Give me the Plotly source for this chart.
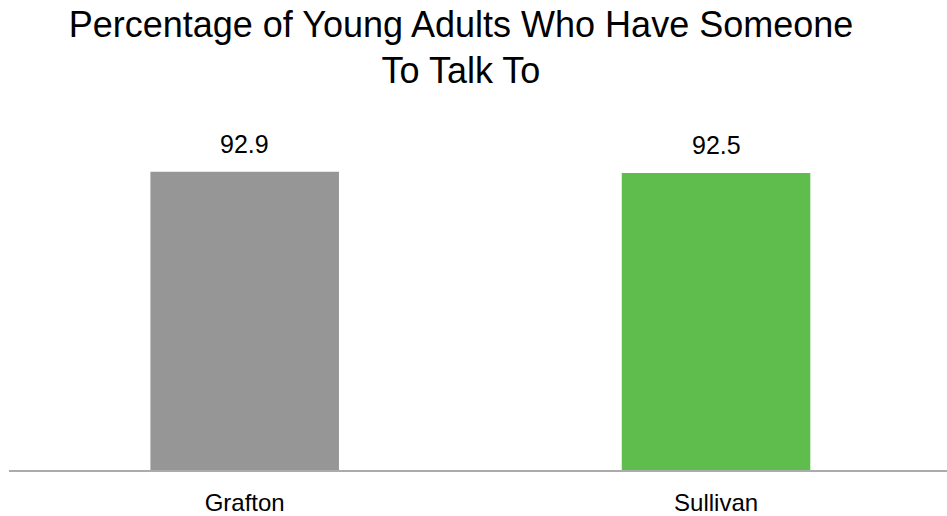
import plotly.graph_objects as go

categories = ["Grafton", "Sullivan"]
values = [92.9, 92.5]
value_labels = ["92.9", "92.5"]
bar_colors = ["#969696", "#5EBD4C"]
title_text = "Percentage of Young Adults Who Have Someone<br>To Talk To"

fig = go.Figure()
fig.add_trace(go.Bar(
    x=categories, y=values, width=0.4,
    marker=dict(color=bar_colors, line=dict(width=0)),
    hoverinfo="skip",
))
for c, v, t in zip(categories, values, value_labels):
    fig.add_annotation(x=c, y=v, text=t, showarrow=False, yanchor="bottom",
                       yshift=12, font=dict(family="Liberation Sans, Arial", size=25, color="#000000"))

fig.update_layout(
    width=947, height=516,
    margin=dict(l=9, r=0, t=149, b=46, autoexpand=False),
    paper_bgcolor="white", plot_bgcolor="white",
    showlegend=False,
    title=dict(text=title_text, x=0.4868, xanchor="center", y=0.929, yanchor="top",
               font=dict(family="Liberation Sans, Arial", size=36, color="#000000")),
    xaxis=dict(range=[-0.5, 1.49], showline=True, linecolor="#ABABAB", linewidth=2,
               showgrid=False, zeroline=False, ticks="", ticklabelstandoff=10,
               automargin=False,
               tickfont=dict(family="Liberation Sans, Arial", size=24, color="#000000")),
    yaxis=dict(range=[0, 100], visible=False, showgrid=False, zeroline=False, automargin=False),
)
fig.write_html("out.html", config={"displayModeBar": False},
               post_script="document.body.style.margin='0';document.body.style.overflow='hidden';")
